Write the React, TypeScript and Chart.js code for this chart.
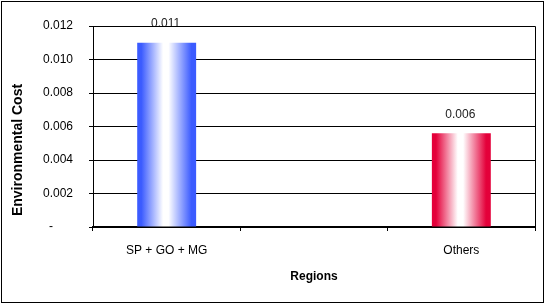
import React, { useEffect, useRef } from 'react';
import { Chart, registerables } from 'chart.js';

Chart.register(...registerables);

const categories = ['SP + GO + MG', '', 'Others'];
const costValues: (number | null)[] = [0.011, null, 0.0056];
const barEdgeColors: (string | null)[] = ['#3B5BFF', null, '#E4003A'];
const yMin = 0;
const yMax = 0.012;
const yStep = 0.002;
const xTitle = 'Regions';
const yTitle = 'Environmental Cost';

const FONT = '"Liberation Sans", Arial, sans-serif';

export default function App() {
  const ref = useRef<HTMLCanvasElement | null>(null);

  useEffect(() => {
    if (!ref.current) return;

    const framePlugin = {
      id: 'frame',
      afterDraw(chart: any) {
        const { ctx, chartArea } = chart;
        ctx.save();
        ctx.strokeStyle = '#000';
        ctx.lineWidth = 1;
        ctx.beginPath();
        ctx.moveTo(Math.round(chartArea.left) + 0.5, Math.round(chartArea.top) + 0.5);
        ctx.lineTo(Math.round(chartArea.right) + 0.5, Math.round(chartArea.top) + 0.5);
        ctx.lineTo(Math.round(chartArea.right) + 0.5, Math.round(chartArea.bottom));
        ctx.stroke();
        ctx.strokeRect(1.5, 1.5, chart.width - 4, chart.height - 3);
        ctx.fillStyle = '#000';
        ctx.font = 'bold 12px ' + FONT;
        ctx.textAlign = 'center';
        ctx.textBaseline = 'middle';
        ctx.fillText(xTitle, (chartArea.left + chartArea.right) / 2, 277);
        ctx.translate(18, 150);
        ctx.rotate(-Math.PI / 2);
        ctx.font = 'bold 14px ' + FONT;
        ctx.fillText(yTitle, 0, 0);
        ctx.restore();
      },
    };

    const labelPlugin = {
      id: 'barLabels',
      afterDatasetsDraw(chart: any) {
        const { ctx } = chart;
        const meta = chart.getDatasetMeta(0);
        ctx.save();
        ctx.fillStyle = '#222';
        ctx.font = '12px ' + FONT;
        ctx.textAlign = 'center';
        ctx.textBaseline = 'middle';
        meta.data.forEach((el: any, i: number) => {
          const v = costValues[i];
          if (v == null) return;
          ctx.fillText(v.toFixed(3), el.x - 1, el.y - 19);
        });
        ctx.restore();
      },
    };

    const chart = new Chart(ref.current, {
      type: 'bar',
      data: {
        labels: categories,
        datasets: [
          {
            data: costValues,
            categoryPercentage: 1,
            barPercentage: 0.4,
            borderWidth: 0,
            backgroundColor: (context: any) => {
              const c = context.chart;
              const xs = c.scales && c.scales.x;
              const i = context.dataIndex;
              if (!xs || !c.chartArea || i == null) return 'rgba(0,0,0,0)';
              const color = barEdgeColors[i];
              if (!color) return 'rgba(0,0,0,0)';
              const center = xs.getPixelForValue(i);
              const half = (xs.width / categories.length) * 0.4 / 2;
              const g = c.ctx.createLinearGradient(center - half, 0, center + half, 0);
              g.addColorStop(0, color);
              g.addColorStop(0.07, color);
              g.addColorStop(0.44, '#ffffff');
              g.addColorStop(0.53, '#ffffff');
              g.addColorStop(0.92, color);
              g.addColorStop(1, color);
              return g;
            },
          },
        ],
      },
      options: {
        animation: false,
        responsive: false,
        devicePixelRatio: 1,
        layout: { padding: { top: 26, right: 11, left: 0, bottom: 0 } },
        plugins: {
          legend: { display: false },
          tooltip: { enabled: false },
        },
        scales: {
          x: {
            offset: true,
            grid: {
              display: true,
              offset: true,
              drawOnChartArea: false,
              drawTicks: true,
              tickLength: 4,
              color: '#000',
              lineWidth: 1,
            },
            border: { display: true, color: '#000', width: 2 },
            ticks: {
              color: '#000',
              font: { family: FONT, size: 12 },
              padding: 12,
              maxRotation: 0,
              autoSkip: false,
            },
            afterFit: (s: any) => {
              s.height = 77;
            },
          },
          y: {
            min: yMin,
            max: yMax,
            grid: {
              color: '#000',
              lineWidth: 1,
              drawTicks: true,
              tickLength: 4,
            },
            border: { display: true, color: '#000', width: 1 },
            ticks: {
              stepSize: yStep,
              color: '#000',
              font: { family: FONT, size: 12 },
              padding: 16,
              callback: (v: any) => (Math.abs(Number(v)) < 1e-12 ? '-      ' : Number(v).toFixed(3)),
            },
            afterFit: (s: any) => {
              s.width = 93;
            },
          },
        },
      },
      plugins: [labelPlugin, framePlugin],
    });

    return () => chart.destroy();
  }, []);

  return (
    <div style={{ position: 'fixed', left: 0, top: 0, width: 546, height: 304, background: '#fff' }}>
      <canvas ref={ref} width={546} height={304} style={{ display: 'block', width: 546, height: 304 }} />
    </div>
  );
}
